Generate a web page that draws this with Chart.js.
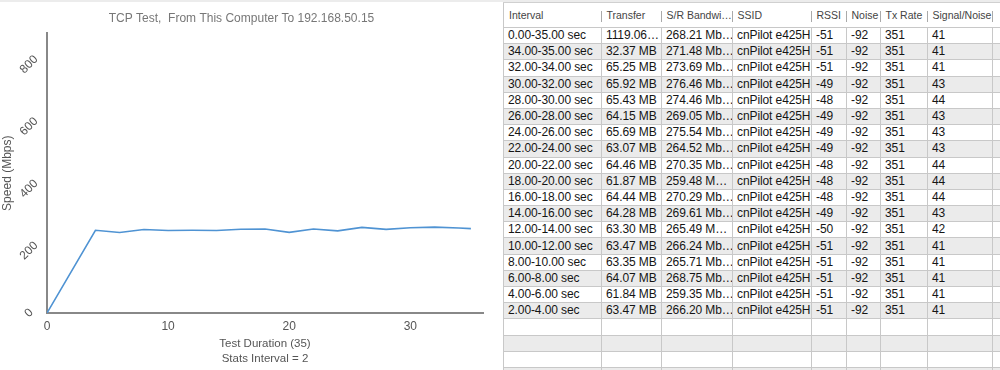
<!DOCTYPE html>
<html lang="en">
<head>
<meta charset="utf-8">
<style>
    html, body { margin: 0; padding: 0; background: #fff; }
    body { width: 1000px; height: 370px; overflow: hidden; position: relative; font-family: "Liberation Sans", Arial, sans-serif; }
    .topbar { position: absolute; left: 0; top: 0; width: 1000px; height: 2px; background: #ececec; }
    .chart-box { position: absolute; left: 0; top: 0; width: 500px; height: 370px; }
    /* 오른쪽 결과 테이블 */
    #stats { position: absolute; left: 503px; top: 2px; border-collapse: collapse; table-layout: fixed; width: 520px; }
    #stats th { height: 24px; padding: 0 0 0 5px; font-size: 10.5px; font-weight: normal; color: #444; text-align: left; background: #fff;
                border-top: 1px solid #d0d0d0; position: relative; white-space: nowrap; overflow: hidden; }
    #stats th.sep::after { content: ''; position: absolute; right: 0; top: 8px; height: 11px; border-left: 1px solid #aaa; }
    #stats th:first-child { border-left: 1px solid #c8c8c8; }
    #stats td { height: 15.2px; padding: 0 0 0 4px; font-size: 12px; letter-spacing: -0.1px; color: #151515; line-height: 15px;
                border: 1px solid #c8c8c8; white-space: nowrap; overflow: hidden; }
    #stats tr.odd td { background: #ebebeb; }
</style>
</head>
<body>
<div class="topbar"></div>
<div class="chart-box"><canvas id="speedChart" width="500" height="370"></canvas></div>
<table id="stats">
    <colgroup>
        <col style="width:98px"><col style="width:60px"><col style="width:71px"><col style="width:79px">
        <col style="width:35px"><col style="width:34px"><col style="width:47px"><col style="width:65px"><col style="width:31px">
    </colgroup>
    <thead><tr></tr></thead>
    <tbody></tbody>
</table>

<script src="https://cdn.jsdelivr.net/npm/chart.js"></script>
<script>
    // 그래프 데이터 (구간 끝 시각, 속도)
    const durationSec = [0, 4, 6, 8, 10, 12, 14, 16, 18, 20, 22, 24, 26, 28, 30, 32, 34, 35];
    const speedMbps = [0, 266.20, 259.35, 268.75, 265.71, 266.24, 265.49, 269.61, 270.29, 259.48,
                       270.35, 264.52, 275.54, 269.05, 274.46, 276.46, 273.69, 271.48];
    const yTicks = [0, 200, 400, 600, 800];
    const xTicks = [0, 10, 20, 30];

    // 테이블 데이터
    const headers = ['Interval', 'Transfer', 'S/R Bandwi…', 'SSID', 'RSSI', 'Noise', 'Tx Rate', 'Signal/Noise', ''];
    const intervals = ['0.00-35.00 sec', '34.00-35.00 sec', '32.00-34.00 sec', '30.00-32.00 sec', '28.00-30.00 sec',
                       '26.00-28.00 sec', '24.00-26.00 sec', '22.00-24.00 sec', '20.00-22.00 sec', '18.00-20.00 sec',
                       '16.00-18.00 sec', '14.00-16.00 sec', '12.00-14.00 sec', '10.00-12.00 sec', '8.00-10.00 sec',
                       '6.00-8.00 sec', '4.00-6.00 sec', '2.00-4.00 sec'];
    const transfers = ['1119.06…', '32.37 MB', '65.25 MB', '65.92 MB', '65.43 MB', '64.15 MB', '65.69 MB', '63.07 MB',
                       '64.46 MB', '61.87 MB', '64.44 MB', '64.28 MB', '63.30 MB', '63.47 MB', '63.35 MB', '64.07 MB',
                       '61.84 MB', '63.47 MB'];
    const bandwidths = ['268.21 Mb…', '271.48 Mb…', '273.69 Mb…', '276.46 Mb…', '274.46 Mb…', '269.05 Mb…',
                        '275.54 Mb…', '264.52 Mb…', '270.35 Mb…', '259.48 M…', '270.29 Mb…', '269.61 Mb…',
                        '265.49 M…', '266.24 Mb…', '265.71 Mb…', '268.75 Mb…', '259.35 Mb…', '266.20 Mb…'];
    const ssid = 'cnPilot e425H';
    const rssi = [-51, -51, -51, -49, -48, -49, -49, -49, -48, -48, -48, -49, -50, -51, -51, -51, -51, -51];
    const noise = -92;
    const txRate = 351;
    const signalNoise = [41, 41, 41, 43, 44, 43, 43, 43, 44, 44, 44, 43, 42, 41, 41, 41, 41, 41];
    const emptyRows = 4;

    // 헤더
    let headRow = document.querySelector('#stats thead tr');
    headers.forEach(function(h, i) {
        let th = document.createElement('th');
        th.textContent = h;
        if (i < headers.length - 1) th.className = 'sep';
        headRow.appendChild(th);
    });

    // 본문
    let tbody = document.querySelector('#stats tbody');
    intervals.forEach(function(iv, i) {
        let tr = document.createElement('tr');
        if (i % 2 === 1) tr.className = 'odd';
        [iv, transfers[i], bandwidths[i], ssid, rssi[i], noise, txRate, signalNoise[i], ''].forEach(function(v) {
            let td = document.createElement('td');
            td.textContent = v;
            tr.appendChild(td);
        });
        tbody.appendChild(tr);
    });
    for (let r = 0; r < emptyRows; r++) {
        let tr = document.createElement('tr');
        if ((intervals.length + r) % 2 === 1) tr.className = 'odd';
        for (let c = 0; c < headers.length; c++) {
            let td = document.createElement('td');
            td.innerHTML = '&nbsp;';
            tr.appendChild(td);
        }
        tbody.appendChild(tr);
    }

    const points = durationSec.map(function(t, i) { return {x: t, y: speedMbps[i]}; });

    const ctx = document.getElementById('speedChart');
    new Chart(ctx, {
        type: 'line',
        data: {
            datasets: [{
                label: 'Speed',
                data: points,
                borderColor: '#4f93d3',
                borderWidth: 1.6,
                pointRadius: 0,
                tension: 0,
                fill: false
            }]
        },
        options: {
            responsive: false,
            animation: false,
            layout: { padding: { left: 0, top: 0, right: 17, bottom: 0 } },
            plugins: {
                legend: { display: false },
                tooltip: { enabled: false },
                title: {
                    display: true,
                    text: 'TCP Test,  From This Computer To 192.168.50.15',
                    color: '#777',
                    font: { family: '"Liberation Sans", Arial', size: 12, weight: 'normal' },
                    padding: { top: 11, bottom: 8 }
                }
            },
            scales: {
                x: {
                    type: 'linear',
                    min: 0,
                    max: 36,
                    grid: { display: false, drawTicks: false, tickLength: 0 },
                    border: { display: true, color: '#888', width: 2 },
                    afterBuildTicks: function(scale) { scale.ticks = xTicks.map(function(v) { return {value: v}; }); },
                    ticks: { color: '#555', padding: 6, maxRotation: 0, font: { family: '"Liberation Sans", Arial', size: 12 } },
                    title: {
                        display: true,
                        text: ['Test Duration (35)', 'Stats Interval = 2'],
                        color: '#555',
                        font: { family: '"Liberation Sans", Arial', size: 11.5, lineHeight: 1.36 },
                        padding: { top: 0, bottom: 3 }
                    },
                    afterFit: function(scale) { scale.height = 57; }
                },
                y: {
                    min: 0,
                    max: 900,
                    grid: { display: false, drawTicks: false, tickLength: 0 },
                    border: { display: true, color: '#888', width: 2 },
                    afterBuildTicks: function(scale) { scale.ticks = yTicks.map(function(v) { return {value: v}; }); },
                    ticks: {
                        color: '#555', padding: 8, crossAlign: 'center',
                        minRotation: 45, maxRotation: 45,
                        font: { family: '"Liberation Sans", Arial', size: 12 }
                    },
                    title: {
                        display: true,
                        text: 'Speed (Mbps)',
                        color: '#555',
                        font: { family: '"Liberation Sans", Arial', size: 12, lineHeight: 1.3 },
                        padding: { top: 0, bottom: 0 }
                    },
                    afterFit: function(scale) { scale.width = 47; }
                }
            }
        }
    });
</script>
</body>
</html>
